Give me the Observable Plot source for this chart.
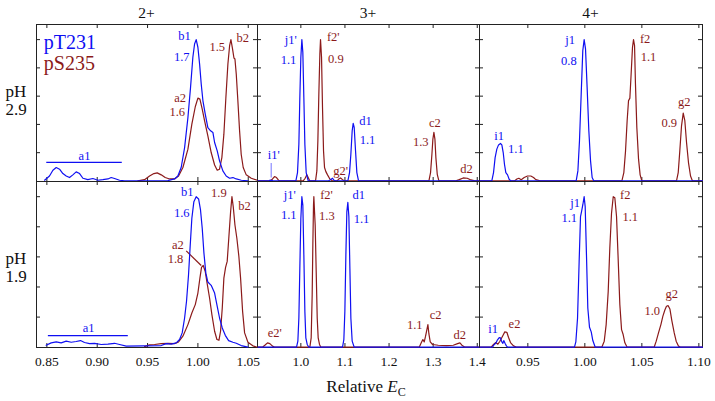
<!DOCTYPE html>
<html><head><meta charset="utf-8">
<script src="https://cdn.jsdelivr.net/npm/d3@7"></script>
<script src="https://cdn.jsdelivr.net/npm/@observablehq/plot@0.6"></script>
<style>
html,body{margin:0;padding:0;background:#fff;}
#chart{position:relative;width:715px;height:401px;overflow:hidden;font-family:"Liberation Serif","Times New Roman",serif;}
#chart svg{position:absolute;}
#chart svg text{font-family:"Liberation Serif","Times New Roman",serif;}
</style></head>
<body><div id="chart"></div>
<script>
// ---------- data (relative E_C, normalized intensity) ----------
const seriesNames = ["pT231", "pS235"];
const chargeStates = ["2+", "3+", "4+"];
const phValues = ["2.9", "1.9"];
const yTicks = [0.2, 0.4, 0.6, 0.8, 1.0];
const ticks2 = [0.85, 0.90, 0.95, 1.00, 1.05];
const ticks3 = [1.0, 1.1, 1.2, 1.3, 1.4];
const ticks4 = [0.95, 1.00, 1.05, 1.10];

// pH 2.9, 2+
const tlBlue = [[0.8477,0.005],[0.8526,0.035],[0.8560,0.076],[0.8593,0.095],[0.8626,0.083],[0.8659,0.052],[0.8692,0.035],[0.8725,0.024],[0.8758,0.043],[0.8791,0.064],[0.8825,0.052],[0.8858,0.019],[0.8907,0.009],[0.8957,0.017],[0.9007,0.005],[0.9056,0.009],[0.9106,0.014],[0.9139,0.024],[0.9172,0.017],[0.9222,0.005],[0.9272,0],[0.9702,0.002],[0.9768,0.014],[0.9801,0.035],[0.9834,0.095],[0.9868,0.236],[0.9901,0.449],[0.9927,0.662],[0.9950,0.875],[0.9967,0.969],[0.9983,1.0],[1.0000,0.946],[1.0017,0.827],[1.0033,0.686],[1.0050,0.567],[1.0073,0.473],[1.0099,0.378],[1.0126,0.355],[1.0149,0.343],[1.0166,0.272],[1.0192,0.213],[1.0215,0.142],[1.0248,0.071],[1.0281,0.035],[1.0315,0.019],[1.0348,0.024],[1.0381,0.014],[1.0431,0.005],[1.0497,0]];
const tlRed = [[0.9404,0],[0.9470,0.009],[0.9520,0.035],[0.9563,0.052],[0.9596,0.057],[0.9636,0.043],[0.9675,0.024],[0.9719,0.014],[0.9768,0.014],[0.9808,0.035],[0.9851,0.095],[0.9901,0.225],[0.9940,0.402],[0.9974,0.525],[1.0000,0.586],[1.0020,0.579],[1.0043,0.508],[1.0066,0.426],[1.0099,0.319],[1.0132,0.201],[1.0166,0.113],[1.0192,0.076],[1.0215,0.083],[1.0238,0.165],[1.0258,0.331],[1.0278,0.591],[1.0298,0.827],[1.0315,0.957],[1.0328,1.0],[1.0344,0.934],[1.0358,0.870],[1.0368,0.863],[1.0381,0.757],[1.0397,0.567],[1.0414,0.355],[1.0430,0.189],[1.0450,0.095],[1.0480,0.043],[1.0530,0.019],[1.0590,0.005]];
// pH 1.9, 2+
const blBlue = [[0.8493,0.013],[0.8543,0.029],[0.8593,0.035],[0.8642,0.029],[0.8692,0.040],[0.8742,0.033],[0.8791,0.038],[0.8834,0.044],[0.8874,0.031],[0.8924,0.024],[0.8974,0.026],[0.9040,0.018],[0.9106,0.020],[0.9172,0.026],[0.9222,0.018],[0.9288,0.007],[0.9636,0.011],[0.9685,0.024],[0.9735,0.020],[0.9785,0.029],[0.9818,0.051],[0.9844,0.095],[0.9868,0.194],[0.9887,0.305],[0.9907,0.481],[0.9924,0.680],[0.9940,0.857],[0.9960,0.967],[0.9983,1.0],[1.0007,0.985],[1.0026,0.912],[1.0043,0.790],[1.0060,0.625],[1.0079,0.492],[1.0099,0.433],[1.0132,0.411],[1.0166,0.360],[1.0192,0.272],[1.0215,0.194],[1.0242,0.128],[1.0272,0.079],[1.0305,0.044],[1.0348,0.033],[1.0381,0.026],[1.0430,0.011],[1.0497,0]];
const blRed = [[0.9470,0.004],[0.9520,0.015],[0.9570,0.018],[0.9636,0.024],[0.9702,0.026],[0.9768,0.024],[0.9808,0.035],[0.9851,0.073],[0.9901,0.150],[0.9940,0.227],[0.9974,0.283],[1.0000,0.360],[1.0020,0.459],[1.0036,0.530],[1.0053,0.543],[1.0073,0.503],[1.0093,0.419],[1.0116,0.327],[1.0139,0.216],[1.0166,0.106],[1.0189,0.051],[1.0209,0.046],[1.0225,0.106],[1.0242,0.260],[1.0258,0.459],[1.0275,0.530],[1.0291,0.570],[1.0308,0.735],[1.0325,0.901],[1.0338,1.0],[1.0351,0.934],[1.0368,0.812],[1.0387,0.724],[1.0407,0.603],[1.0424,0.459],[1.0444,0.238],[1.0464,0.095],[1.0497,0.033],[1.0546,0.009],[1.0589,0]];
// pH 2.9, 3+
const tmBlue = [[0.9032,0],[0.9282,0],[0.9300,0.006],[0.9330,0.004],[0.9372,0],[0.9887,0],[0.9924,0.059],[0.9955,0.260],[0.9977,0.591],[1.0000,0.875],[1.0023,1.0],[1.0045,0.910],[1.0068,0.591],[1.0091,0.260],[1.0121,0.059],[1.0166,0],[1.0620,0],[1.0673,0.009],[1.0718,0.019],[1.0764,0],[1.1066,0],[1.1104,0.059],[1.1134,0.189],[1.1164,0.355],[1.1187,0.407],[1.1210,0.378],[1.1240,0.213],[1.1270,0.059],[1.1308,0],[1.4045,0]];
const tmRed = [[0.9032,0],[0.9312,0],[0.9357,0.014],[0.9403,0.031],[0.9448,0.024],[0.9493,0.005],[0.9530,0],[1.0053,0],[1.0098,0.019],[1.0136,0.043],[1.0166,0.024],[1.0204,0],[1.0333,0],[1.0363,0.071],[1.0386,0.284],[1.0408,0.615],[1.0431,0.898],[1.0446,1.0],[1.0469,0.875],[1.0491,0.520],[1.0514,0.213],[1.0537,0.095],[1.0567,0.066],[1.0605,0.043],[1.0658,0.014],[1.0718,0],[1.0824,0],[1.0862,0.014],[1.0900,0.021],[1.0945,0.009],[1.0991,0],[1.2904,0],[1.2941,0.059],[1.2972,0.189],[1.2994,0.296],[1.3017,0.343],[1.3040,0.296],[1.3062,0.165],[1.3093,0.047],[1.3130,0],[1.3516,0],[1.3592,0.009],[1.3682,0.021],[1.3773,0.019],[1.3856,0.007],[1.3947,0],[1.4045,0]];
// pH 1.9, 3+
const bmBlue = [[0.9032,0],[0.9902,0],[0.9932,0.040],[0.9955,0.194],[0.9977,0.525],[1.0000,0.857],[1.0023,1.0],[1.0045,0.945],[1.0068,0.614],[1.0091,0.238],[1.0113,0.062],[1.0144,0.018],[1.0181,0],[1.0945,0],[1.0975,0.051],[1.0998,0.238],[1.1021,0.614],[1.1043,0.901],[1.1066,0.962],[1.1089,0.868],[1.1112,0.525],[1.1134,0.194],[1.1164,0.040],[1.1210,0],[1.4045,0]];
const bmRed = [[0.9032,0],[0.9130,0],[0.9183,0.013],[0.9244,0.029],[0.9297,0.024],[0.9357,0.007],[0.9410,0],[1.0204,0],[1.0234,0.062],[1.0257,0.349],[1.0272,0.680],[1.0287,0.945],[1.0295,1.0],[1.0310,0.901],[1.0325,0.812],[1.0348,0.503],[1.0371,0.194],[1.0393,0.062],[1.0423,0.018],[1.0454,0],[1.2684,0],[1.2730,0.029],[1.2767,0.051],[1.2798,0.035],[1.2828,0.073],[1.2858,0.117],[1.2881,0.150],[1.2904,0.088],[1.2934,0.035],[1.2987,0.018],[1.3115,0.013],[1.3304,0.011],[1.3456,0.013],[1.3554,0.024],[1.3607,0.029],[1.3652,0.013],[1.3720,0],[1.4045,0]];
// pH 2.9, 4+
const trBlue = [[0.9082,0],[0.9184,0],[0.9199,0.059],[0.9213,0.165],[0.9228,0.225],[0.9243,0.255],[0.9260,0.265],[0.9272,0.255],[0.9284,0.201],[0.9295,0.118],[0.9307,0.059],[0.9322,0.043],[0.9336,0.012],[0.9351,0],[0.9924,0],[0.9939,0.071],[0.9953,0.284],[0.9968,0.615],[0.9982,0.922],[0.9994,1.0],[1.0006,0.934],[1.0020,0.662],[1.0035,0.355],[1.0050,0.142],[1.0064,0.024],[1.0079,0],[1.1032,0]];
const trRed = [[0.9082,0],[0.9383,0],[0.9404,0.014],[0.9421,0.019],[0.9442,0.009],[0.9468,0.024],[0.9497,0.035],[0.9526,0.035],[0.9550,0.024],[0.9570,0.009],[0.9608,0],[1.0325,0],[1.0342,0.059],[1.0357,0.213],[1.0371,0.426],[1.0383,0.567],[1.0395,0.586],[1.0406,0.757],[1.0418,0.946],[1.0427,1.0],[1.0436,0.957],[1.0444,0.686],[1.0456,0.378],[1.0471,0.154],[1.0485,0.043],[1.0500,0],[1.0804,0],[1.0819,0.059],[1.0833,0.213],[1.0848,0.390],[1.0863,0.480],[1.0877,0.426],[1.0892,0.272],[1.0909,0.130],[1.0927,0.035],[1.0944,0],[1.1032,0]];
// pH 1.9, 4+
const brBlue = [[0.9082,0],[0.9190,0],[0.9205,0.018],[0.9219,0.026],[0.9234,0.049],[0.9249,0.064],[0.9260,0.062],[0.9272,0.035],[0.9281,0.026],[0.9289,0.044],[0.9301,0.024],[0.9313,0.007],[0.9325,0],[0.9909,0],[0.9921,0.035],[0.9936,0.194],[0.9950,0.570],[0.9962,0.868],[0.9971,0.901],[0.9982,0.945],[0.9994,1.0],[1.0003,0.934],[1.0015,0.592],[1.0026,0.260],[1.0041,0.132],[1.0056,0.102],[1.0070,0.044],[1.0091,0],[1.1032,0]];
const brRed = [[0.9082,0],[0.9178,0],[0.9199,0.018],[0.9219,0.031],[0.9237,0.020],[0.9254,0.038],[0.9278,0.073],[0.9298,0.102],[0.9316,0.099],[0.9330,0.066],[0.9348,0.031],[0.9374,0.009],[0.9404,0],[1.0149,0],[1.0170,0.040],[1.0187,0.150],[1.0205,0.371],[1.0219,0.658],[1.0234,0.890],[1.0249,1.0],[1.0263,0.993],[1.0278,0.868],[1.0292,0.592],[1.0307,0.283],[1.0322,0.117],[1.0336,0.084],[1.0351,0.029],[1.0371,0],[1.0608,0],[1.0626,0.040],[1.0646,0.095],[1.0667,0.150],[1.0684,0.205],[1.0702,0.247],[1.0716,0.272],[1.0731,0.276],[1.0746,0.254],[1.0763,0.177],[1.0784,0.095],[1.0801,0.040],[1.0822,0.007],[1.0839,0],[1.1032,0]];

// peak labels: fragment name / ratio, with series (b = pT231, r = pS235)
const tlLabels = [{x:0.9867,y:1.028,t:"b1",s:"b"},{x:0.9840,y:0.880,t:"1.7",s:"b"},{x:1.0446,y:1.012,t:"b2",s:"r"},{x:1.0192,y:0.951,t:"1.5",s:"r"},{x:0.9824,y:0.586,t:"a2",s:"r"},{x:0.9795,y:0.488,t:"1.6",s:"r"},{x:0.8874,y:0.179,t:"a1",s:"b"}];
const blLabels = [{x:0.9894,y:1.028,t:"b1",s:"b"},{x:0.9840,y:0.889,t:"1.6",s:"b"},{x:1.0208,y:1.022,t:"1.9",s:"r"},{x:1.0463,y:0.940,t:"b2",s:"r"},{x:0.9801,y:0.678,t:"a2",s:"r"},{x:0.9778,y:0.587,t:"1.8",s:"r"},{x:0.8914,y:0.128,t:"a1",s:"b"}];
const tmLabels = [{x:0.9773,y:1.0,t:"j1'",s:"b"},{x:0.9720,y:0.856,t:"1.1",s:"b"},{x:1.0734,y:1.016,t:"f2'",s:"r"},{x:1.0793,y:0.863,t:"0.9",s:"r"},{x:1.1466,y:0.427,t:"d1",s:"b"},{x:1.1512,y:0.292,t:"1.1",s:"b"},{x:1.3038,y:0.410,t:"c2",s:"r"},{x:1.2720,y:0.278,t:"1.3",s:"r"},{x:1.3757,y:0.085,t:"d2",s:"r"},{x:1.0900,y:0.073,t:"g2'",s:"r"},{x:0.9387,y:0.186,t:"i1'",s:"b"}];
const bmLabels = [{x:0.9750,y:1.011,t:"j1'",s:"b"},{x:0.9727,y:0.878,t:"1.1",s:"b"},{x:1.0582,y:1.011,t:"f2'",s:"r"},{x:1.0589,y:0.874,t:"1.3",s:"r"},{x:1.1314,y:1.011,t:"d1",s:"b"},{x:1.1376,y:0.852,t:"1.1",s:"b"},{x:0.9410,y:0.093,t:"e2'",s:"r"},{x:1.2584,y:0.146,t:"1.1",s:"r"},{x:1.3054,y:0.212,t:"c2",s:"r"},{x:1.3605,y:0.079,t:"d2",s:"r"}];
const trLabels = [{x:0.9249,y:0.319,t:"i1",s:"b"},{x:0.9395,y:0.225,t:"1.1",s:"b"},{x:0.9871,y:1.0,t:"j1",s:"b"},{x:0.9860,y:0.846,t:"0.8",s:"b"},{x:1.0529,y:1.005,t:"f2",s:"r"},{x:1.0558,y:0.875,t:"1.1",s:"r"},{x:1.0871,y:0.560,t:"g2",s:"r"},{x:1.0740,y:0.409,t:"0.9",s:"r"}];
const brLabels = [{x:0.9196,y:0.124,t:"i1",s:"b"},{x:0.9383,y:0.157,t:"e2",s:"r"},{x:0.9915,y:0.956,t:"j1",s:"b"},{x:0.9863,y:0.861,t:"1.1",s:"b"},{x:1.0354,y:1.011,t:"f2",s:"r"},{x:1.0398,y:0.868,t:"1.1",s:"r"},{x:1.0763,y:0.353,t:"g2",s:"r"},{x:1.0591,y:0.238,t:"1.0",s:"r"}];

// annotation connector lines (x1,y1,x2,y2)
const tlLinks = [{x1:0.8494,y1:0.132,x2:0.9244,y2:0.132,s:"b"}];
const blLinks = [{x1:0.8510,y1:0.077,x2:0.9304,y2:0.077,s:"b"},{x1:0.9884,y1:0.640,x2:1.0033,y2:0.543,s:"r"}];
const tmLinks = [{x1:0.9328,y1:0.127,x2:0.9328,y2:0.025,s:"l"}];

// ---------- layout & style ----------
const FONT = "'Liberation Serif', 'Times New Roman', serif";
const colors = {b: "#0f0ff2", r: "#8b1a1a", l: "#8a8aff"};
const frameColor = "#222";
const cols = [
  {x0: 36, x1: 257, domain: [0.8397, 1.0592], ticks: ticks2, fmt: ".2f"},
  {x0: 257, x1: 479, domain: [0.9017, 1.4051], ticks: ticks3, fmt: ".1f"},
  {x0: 479, x1: 702, domain: [0.9076, 1.1032], ticks: ticks4, fmt: ".2f"}
];
const rowsL = [
  {y0: 24, y1: 181, domain: [-0.004, 1.107]},
  {y0: 181, y1: 347, domain: [-0.002, 1.101]}
];
const panels = [
  [{blue: tlBlue, red: tlRed, labels: tlLabels, links: tlLinks}, {blue: tmBlue, red: tmRed, labels: tmLabels, links: tmLinks}, {blue: trBlue, red: trRed, labels: trLabels, links: []}],
  [{blue: blBlue, red: blRed, labels: blLabels, links: blLinks}, {blue: bmBlue, red: bmRed, labels: bmLabels, links: []}, {blue: brBlue, red: brRed, labels: brLabels, links: []}]
];

const chart = document.getElementById("chart");

// overlay text (titles, row labels, axis label)
const ov = d3.create("svg").attr("width", 715).attr("height", 401)
  .style("left", "0px").style("top", "0px").style("font-family", FONT).attr("fill", "#111");
chargeStates.forEach((c, i) => {
  ov.append("text").attr("x", (cols[i].x0 + cols[i].x1) / 2).attr("y", 17.5)
    .attr("text-anchor", "middle").style("font-family", FONT).attr("font-size", 15.5).text(c);
});
const phBase = [[96.7, 115], [264, 281.7]];
phValues.forEach((p, i) => {
  ov.append("text").attr("x", 16).attr("y", phBase[i][0]).attr("text-anchor", "middle").style("font-family", FONT).attr("font-size", 17).text("pH");
  ov.append("text").attr("x", 16).attr("y", phBase[i][1]).attr("text-anchor", "middle").style("font-family", FONT).attr("font-size", 17).text(p);
});
const xl = ov.append("text").attr("x", 366).attr("y", 391.5).attr("text-anchor", "middle").style("font-family", FONT).attr("font-size", 17);
xl.append("tspan").text("Relative ");
xl.append("tspan").attr("font-style", "italic").text("E");
xl.append("tspan").attr("font-size", 12).attr("dy", 4).text("C");
chart.appendChild(ov.node());

rowsL.forEach((row, ri) => {
  cols.forEach((col, ci) => {
    const d = panels[ri][ci];
    const W = col.x1 - col.x0, H = row.y1 - row.y0;
    const mb = ri === 1 ? 30 : 0;
    const marks = [
      Plot.frame({stroke: frameColor, strokeWidth: 1}),
      Plot.tickY(yTicks, {y: v => v, insetRight: W - 4, stroke: frameColor}),
      Plot.tickY(yTicks, {y: v => v, insetLeft: W - 4, stroke: frameColor}),
      Plot.tickX(col.ticks, {x: v => v, insetBottom: H - 4, stroke: frameColor}),
      Plot.tickX(col.ticks, {x: v => v, insetTop: H - 4, stroke: frameColor}),
      Plot.link(d.links, {x1: "x1", y1: "y1", x2: "x2", y2: "y2", stroke: l => colors[l.s], strokeWidth: 1.2}),
      Plot.line(d.red, {x: p => p[0], y: p => p[1], stroke: colors.r, strokeWidth: 1.2, curve: "linear"}),
      Plot.line(d.blue, {x: p => p[0], y: p => p[1], stroke: colors.b, strokeWidth: 1.2, curve: "linear"}),
      Plot.text(d.labels, {x: "x", y: "y", text: "t", fill: l => colors[l.s], fontSize: 12.5, fontFamily: FONT})
    ];
    if (ri === 1) {
      marks.push(Plot.text(col.ticks, {x: v => v, text: v => d3.format(col.fmt)(v), frameAnchor: "bottom", dy: 18, fontSize: 13.5, fontFamily: FONT, fill: "#111"}));
    }
    if (ri === 0 && ci === 0) {
      marks.push(Plot.text([seriesNames[0]], {text: v => v, frameAnchor: "top-left", dx: 7.3, dy: 24.3, textAnchor: "start", lineAnchor: "bottom", fontSize: 20, fontFamily: FONT, fill: colors.b}));
      marks.push(Plot.text([seriesNames[1]], {text: v => v, frameAnchor: "top-left", dx: 7.3, dy: 45.3, textAnchor: "start", lineAnchor: "bottom", fontSize: 20, fontFamily: FONT, fill: colors.r}));
    }
    const svg = Plot.plot({
      width: W, height: H + mb,
      marginLeft: 0, marginRight: 0, marginTop: 0, marginBottom: mb,
      x: {domain: col.domain, axis: null},
      y: {domain: row.domain, axis: null},
      style: {fontFamily: FONT, background: "transparent", overflow: "visible"},
      marks
    });
    svg.style.left = col.x0 + "px";
    svg.style.top = row.y0 + "px";
    svg.style.position = "absolute";
    chart.appendChild(svg);
  });
});
</script>
</body></html>
